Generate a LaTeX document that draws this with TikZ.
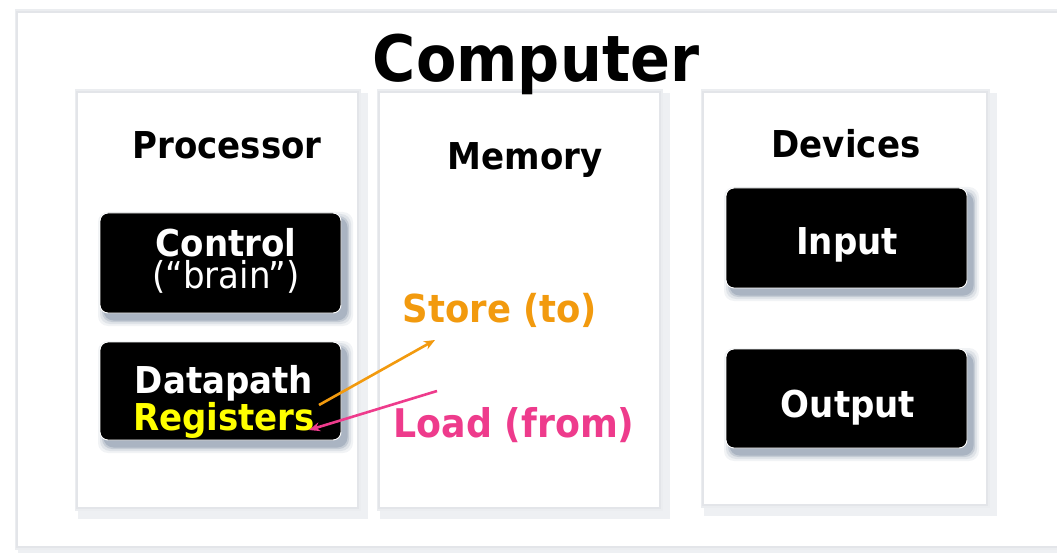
\documentclass[tikz,border=0pt]{standalone}
\usepackage{fontspec}
\setmainfont{DejaVu Sans}[FakeStretch=0.92]
\usetikzlibrary{arrows.meta}
\definecolor{framegray}{HTML}{E3E5E9}
\definecolor{framehalo}{HTML}{EEF0F3}
\definecolor{boxshadow}{HTML}{7A8AA0}
\definecolor{storeorange}{HTML}{F29A0E}
\definecolor{loadpink}{HTML}{EE3B8C}
\definecolor{regyellow}{HTML}{FFFF00}
\newcommand{\fs}[1]{\fontsize{#1}{#1}\selectfont}
\newcommand{\fsl}[2]{\fontsize{#1}{#2}\selectfont}
% soft framed panel: halo offset to lower right, then the frame itself
\newcommand{\panel}[4]{%
  \draw[framehalo,line width=9pt] (#1+5,#2+6) rectangle (#3+5,#4+6);
  \draw[framegray!70,line width=5pt] (#1,#2) rectangle (#3,#4);
  \filldraw[fill=white,draw=framegray,line width=2.5pt] (#1,#2) rectangle (#3,#4);}
% black unit with a blurred blue-grey drop shadow
\newcommand{\unitshadow}[4]{%
  \foreach \s/\o in {7/0.10,5/0.15,3/0.25,1.5/0.35}{
    \fill[boxshadow,opacity=\o,rounded corners=10pt]
      (#1+5-\s,#2+6-\s) rectangle (#3+5+\s,#4+6+\s);}}
\begin{document}
\begin{tikzpicture}[x=1pt,y=-1pt,
  lbl/.style={anchor=base,inner sep=0pt,font=\bfseries\fs{37}},
  unitbox/.style={fill=black,draw=white,line width=0.9pt,rounded corners=8pt},
  flow/.style={line width=2.6pt,-{Stealth[length=11pt,width=9pt]}}]
\useasboundingbox (0,0) rectangle (1057,553);
\fill[white] (0,0) rectangle (1057,553);

% outer frame
\panel{17}{12}{1075}{547}
% inner panels
\panel{77}{92}{358}{508}
\panel{379}{92}{660}{508}
\panel{703}{92}{987}{505}

% title and panel headings
\node[lbl,font=\bfseries\fs{64}] (computer) at (536,82) {Computer};
\node[lbl] (processor) at (227,159) {Processor};
\node[lbl] (memory) at (525,170) {Memory};
\node[lbl] (devices) at (846,158) {Devices};

% processor units (anchor sits on the last line's baseline)
\unitshadow{100}{213}{341}{313}
\path[unitbox] (100,213) rectangle (341,313);
\node[lbl,white,align=center,font=\bfseries\fsl{37}{31.5}] (control) at (226,288)
  {Control\\\mdseries(“brain”)};

\unitshadow{100}{342}{341}{440}
\path[unitbox] (100,342) rectangle (341,440);
\node[lbl,white,align=center,font=\bfseries\fsl{37}{37}] (datapath) at (224,430)
  {Datapath\\\color{regyellow}Registers};

% device units
\unitshadow{726}{188}{967}{288}
\path[unitbox] (726,188) rectangle (967,288);
\node[lbl,white] (input) at (847,255) {Input};

\unitshadow{726}{349}{967}{448}
\path[unitbox] (726,349) rectangle (967,448);
\node[lbl,white] (output) at (848,417) {Output};

% memory traffic
\node[lbl,storeorange,font=\bfseries\fs{38.5}] (store) at (500,322) {Store (to)};
\node[lbl,loadpink,font=\bfseries\fs{39.5}] (load) at (514,437) {Load (from)};

\coordinate (storefrom) at (319,405);
\coordinate (storeto) at (435,340);
\coordinate (loadfrom) at (437,391);
\coordinate (loadto) at (309,430);
\draw[flow,storeorange] (storefrom) -- (storeto);
\draw[flow,loadpink] (loadfrom) -- (loadto);
\end{tikzpicture}
\end{document}
